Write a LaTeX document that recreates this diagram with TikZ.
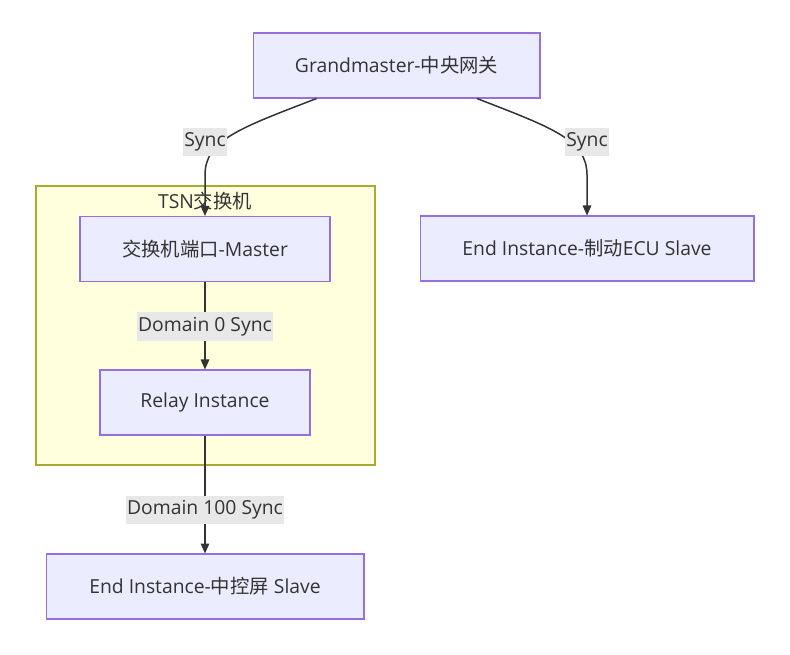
\documentclass[tikz,border=0pt]{standalone}
\usepackage{fontspec}
\setmainfont{Open Sans}
\newfontfamily\cjk{Noto Sans CJK SC}
\usetikzlibrary{arrows.meta}

\definecolor{boxfill}{HTML}{ECECFF}
\definecolor{boxline}{HTML}{9370DB}
\definecolor{clusterfill}{HTML}{FFFFDE}
\definecolor{clusterline}{HTML}{AAAA33}
\definecolor{edgeline}{HTML}{333333}
\definecolor{labelfill}{HTML}{E8E8E8}
\definecolor{textcol}{HTML}{333333}

\tikzset{
	box/.style={draw=boxline, fill=boxfill, line width=0.6pt, minimum height=1.3cm, text=textcol, font=\fontsize{11}{13}\selectfont},
	edgelabel/.style={fill=labelfill, inner xsep=0.6pt, inner ysep=0pt, minimum height=0.57cm, text=textcol, font=\fontsize{11}{13}\selectfont},
	link/.style={draw=edgeline, line width=0.85pt, -{Triangle[length=2mm,width=1.7mm]}},
	cluster/.style={draw=clusterline, fill=clusterfill, line width=0.6pt}
}

\begin{document}
\begin{tikzpicture}[x=0.02cm, y=-0.02cm]
			%%%%% START %%%%%
			\useasboundingbox (0, 0) rectangle (790, 654);
			
			\draw[cluster] (36, 186) rectangle (375, 465);
			\node[text=textcol, font=\fontsize{11}{13}\selectfont] (tsn) at (205, 201) {TSN{\cjk 交换机}};
			
			\node[box, minimum width=5.74cm] (gm) at (396.5, 65.5) {Grandmaster-{\cjk 中央网关}};
			\node[box, minimum width=5cm] (port) at (205, 249) {{\cjk 交换机端口}-Master};
			\node[box, minimum width=4.2cm] (relay) at (205, 402.5) {Relay Instance};
			\node[box, minimum width=6.36cm] (hmi) at (205, 586.5) {End Instance-{\cjk 中控屏} Slave};
			\node[box, minimum width=6.68cm] (brake) at (587, 248.5) {End Instance-{\cjk 制动}ECU Slave};
			
			\draw[link] ([xshift=-1.6cm]gm.south) .. controls (240, 128) and (205, 140) .. (205, 175) -- (port.north);
			\node[edgelabel] (sync1) at (205, 142) {Sync};
			
			\draw[link] ([xshift=1.61cm]gm.south) .. controls (553, 128) and (587, 140) .. (587, 175) -- (brake.north);
			\node[edgelabel] (sync2) at (587, 142) {Sync};
			
			\draw[link] (port) -- (relay);
			\node[edgelabel] (dom0) at (205, 326.5) {Domain 0 Sync};
			
			\draw[link] (relay) -- (hmi);
			\node[edgelabel] (dom100) at (205, 510) {Domain 100 Sync};
			
			%%%%% END %%%%%
\end{tikzpicture}
\end{document}
